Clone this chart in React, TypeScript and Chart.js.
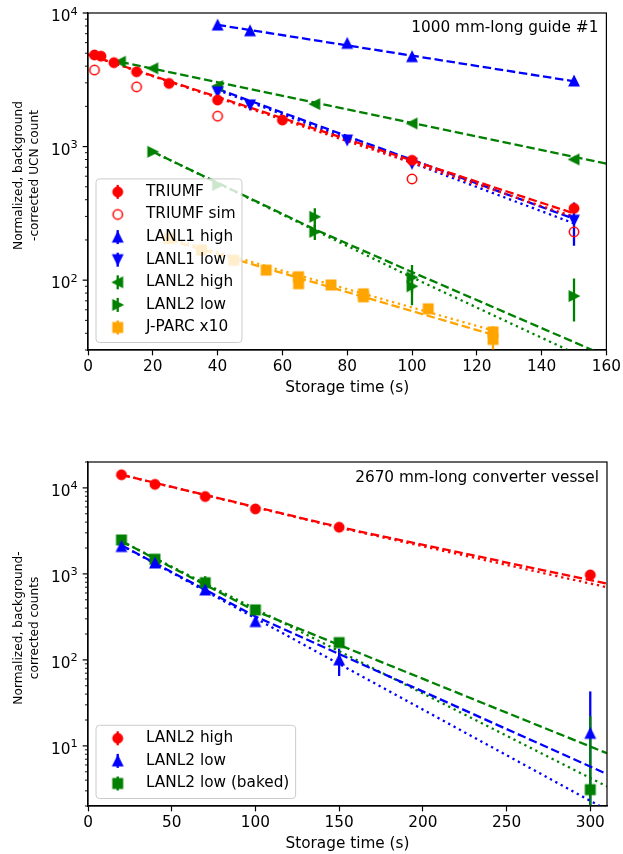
import React, { useEffect, useRef } from 'react';
import { Chart, registerables } from 'chart.js';

Chart.register(...registerables);

// ---------------- Top panel: 1000 mm-long guide #1 ----------------
const topTitle = '1000 mm-long guide #1';
const topXLabel = 'Storage time (s)';
const topYLabel = ['Normalized, background', '-corrected UCN count'];
const topXTicks = [0, 20, 40, 60, 80, 100, 120, 140, 160];
const topYDecades = [2, 3, 4];

const triumfT = [2, 4, 8, 15, 25, 40, 60, 100, 150];
const triumfN = [4850, 4750, 4250, 3630, 2970, 2230, 1580, 790, 345];
const triumfErr = [70, 70, 65, 60, 55, 45, 40, 30, 25];

const triumfSimT = [2, 15, 40, 100, 150];
const triumfSimN = [3740, 2800, 1690, 572, 230];

const lanl1T = [40, 50, 80, 100, 150];
const lanl1HighN = [8130, 7360, 5930, 4710, 3100];
const lanl1HighErr = [90, 85, 75, 70, 60];
const lanl1LowN = [2570, 2050, 1120, 748, 281];
const lanl1LowErr = [45, 40, 30, 25, 100];

const lanl2HighT = [10, 20, 40, 70, 100, 150];
const lanl2HighN = [4320, 3850, 2840, 2080, 1490, 802];
const lanl2HighErr = [60, 55, 45, 40, 35, 30];

const lanl2LowT = [20, 40, 70, 70, 100, 100, 150];
const lanl2LowN = [914, 515, 298, 230, 105, 90, 76];
const lanl2LowErr = [25, 20, 48, 30, 25, 25, 27];

const jparcT = [25, 35, 45, 55, 65, 65, 75, 85, 85, 105, 125, 125];
const jparcN = [205, 168, 141, 119, 106, 94, 92, 79, 75, 61, 41, 36];
const jparcErr = [5, 5, 4, 4, 4, 4, 4, 4, 4, 4, 4, 9];

// fitted curves (top panel)
const fitTriumfT = [0, 150];
const fitTriumfDashN = [4880, 316];
const fitTriumfDotN = [4880, 298];
const fitL1T = [40, 150];
const fitL1HighN = [8150, 3080];
const fitL1LowDashN = [2700, 288];
const fitL1LowDotN = [2650, 266];
const fitL2HighT = [10, 160];
const fitL2HighN = [4300, 745];
const fitL2LowDashT = [20, 70, 100, 160];
const fitL2LowDashN = [914, 240, 115, 27];
const fitL2LowDotT = [20, 100, 160];
const fitL2LowDotN = [914, 105, 22];
const fitJparcT = [25, 125];
const fitJparcDashN = [200, 39];
const fitJparcDotN = [205, 42];

// ---------------- Bottom panel: 2670 mm-long converter vessel ----------------
const botTitle = '2670 mm-long converter vessel';
const botXLabel = 'Storage time (s)';
const botYLabel = ['Normalized, background-', 'corrected counts'];
const botXTicks = [0, 50, 100, 150, 200, 250, 300];
const botYDecades = [1, 2, 3, 4];

const vesselT = [20, 40, 70, 100, 150, 300];
const vHighN = [14200, 11000, 7930, 5700, 3490, 973];
const vHighErr = [200, 160, 120, 90, 60, 40];
const vLowN = [2080, 1340, 650, 279, 100, 14];
const vLowErr = [40, 30, 25, 30, 35, 29];
const vBakedN = [2480, 1480, 790, 381, 159, 3.1];
const vBakedErr = [40, 30, 150, 20, 15, 19];

const fitVHighT = [20, 150, 310];
const fitVHighDashN = [14200, 3500, 770];
const fitVHighDotN = [14200, 3450, 700];
const fitVLowDashT = [20, 100, 310];
const fitVLowDashN = [2150, 320, 4.7];
const fitVLowDotT = [20, 310];
const fitVLowDotN = [2150, 1.8];
const fitVBakedDashT = [20, 100, 310];
const fitVBakedDashN = [2400, 370, 8.2];
const fitVBakedDotT = [20, 310];
const fitVBakedDotN = [2400, 3.37];

// ---------------- styling ----------------
const FAMILY = '"DejaVu Sans", "Liberation Sans", sans-serif';
const FS = 15.3;
const YLFS = 12.2;
const RED = '#ff0000';
const BLUE = '#0000ff';
const GREEN = '#008000';
const ORANGE = '#ffa500';
const LW = 2.3;
const DASH = [8.5, 3.7];
const DOT = [2.3, 3.8];
const MS = 9.4;
const MEW = 1.53;
const TICK_MAJ = 5.35;
const TICK_MIN = 3.06;

function markerImg(kind: string, color: string): HTMLCanvasElement {
  const S = 22;
  const c = document.createElement('canvas');
  c.width = S;
  c.height = S;
  const ctx = c.getContext('2d')!;
  ctx.translate(S / 2, S / 2);
  ctx.lineWidth = MEW;
  ctx.strokeStyle = color;
  ctx.fillStyle = color;
  ctx.lineJoin = 'miter';
  const h = MS / 2;
  ctx.beginPath();
  if (kind === 'o' || kind === 'oh') {
    ctx.arc(0, 0, h, 0, Math.PI * 2);
  } else if (kind === 's') {
    ctx.rect(-h, -h, MS, MS);
  } else {
    const rot: Record<string, number> = { '^': 0, v: Math.PI, '<': -Math.PI / 2, '>': Math.PI / 2 };
    ctx.rotate(rot[kind]);
    ctx.moveTo(0, -h);
    ctx.lineTo(-h, h);
    ctx.lineTo(h, h);
    ctx.closePath();
  }
  if (kind !== 'oh') ctx.fill();
  ctx.stroke();
  return c;
}

function pts(xs: number[], ys: number[]) {
  return xs.map((x, i) => ({ x, y: ys[i] }));
}

function series(label: string, xs: number[], ys: number[], errs: number[] | null, color: string, kind: string) {
  const img = markerImg(kind, color);
  return {
    label,
    data: pts(xs, ys),
    errs,
    errColor: color,
    legendImg: img,
    showLine: false,
    pointStyle: img,
    pointRadius: 5,
    borderColor: color,
    backgroundColor: color,
  };
}

function fit(xs: number[], ys: number[], color: string, dash: number[]) {
  return {
    data: pts(xs, ys),
    showLine: true,
    pointRadius: 0,
    borderColor: color,
    backgroundColor: color,
    borderWidth: LW,
    borderDash: dash,
    fill: false,
    tension: 0,
    isFit: true,
  };
}

type Deco = {
  title: string;
  titleDy: number;
  xLabel: string;
  xLabelDy: number;
  yLabel: string[];
  yDecades: number[];
};

function font(size: number) {
  return `${size}px ${FAMILY}`;
}

function decoPlugin(d: Deco) {
  return {
    id: 'deco',
    beforeDatasetsDraw(chart: any) {
      const { ctx, chartArea: a, scales } = chart;
      const xs = scales.x;
      const ys = scales.y;
      ctx.save();
      ctx.beginPath();
      ctx.rect(a.left, a.top, a.right - a.left, a.bottom - a.top);
      ctx.clip();
      chart.data.datasets.forEach((ds: any) => {
        if (!ds.errs) return;
        ctx.strokeStyle = ds.errColor;
        ctx.lineWidth = LW;
        ds.data.forEach((p: any, i: number) => {
          const e = ds.errs[i];
          if (!e) return;
          const lo = p.y - e;
          const hi = p.y + e;
          const px = xs.getPixelForValue(p.x);
          const y1 = lo > 0 ? ys.getPixelForValue(lo) : a.bottom + 20;
          const y2 = ys.getPixelForValue(hi);
          ctx.beginPath();
          ctx.moveTo(px, y1);
          ctx.lineTo(px, y2);
          ctx.stroke();
        });
      });
      ctx.restore();
    },
    afterDatasetsDraw(chart: any) {
      const { ctx, chartArea: a } = chart;
      const entries = chart.data.datasets.filter((ds: any) => ds.legendImg);
      ctx.save();
      ctx.font = font(FS);
      let maxW = 0;
      entries.forEach((e: any) => {
        maxW = Math.max(maxW, ctx.measureText(e.label).width);
      });
      const spacing = 22.6;
      const h = 13 + spacing * (entries.length - 1) + 15;
      const w = 50 + maxW + 6.3;
      const left = a.left + 8;
      const top = a.bottom - 7.5 - h;
      ctx.beginPath();
      ctx.roundRect(left, top, w, h, 3.5);
      ctx.fillStyle = 'rgba(255,255,255,0.8)';
      ctx.fill();
      ctx.strokeStyle = '#cccccc';
      ctx.lineWidth = 1;
      ctx.stroke();
      entries.forEach((e: any, i: number) => {
        const cy = top + 13 + spacing * i;
        const mx = left + 21.7;
        if (e.errs) {
          ctx.strokeStyle = e.errColor;
          ctx.lineWidth = LW;
          ctx.beginPath();
          ctx.moveTo(mx, cy - 7);
          ctx.lineTo(mx, cy + 7);
          ctx.stroke();
        }
        const img = e.legendImg;
        ctx.drawImage(img, mx - img.width / 2, cy - img.height / 2);
        ctx.fillStyle = '#000';
        ctx.textAlign = 'left';
        ctx.textBaseline = 'middle';
        ctx.fillText(e.label, left + 50, cy);
      });
      ctx.restore();
    },
    afterDraw(chart: any) {
      const { ctx, chartArea: a, scales } = chart;
      const ys = scales.y;
      ctx.save();
      // frame
      ctx.strokeStyle = '#000';
      ctx.lineWidth = 1.2;
      ctx.strokeRect(a.left, a.top, a.right - a.left, a.bottom - a.top);
      // y ticks (major + minor) and labels
      const lo = Math.floor(Math.log10(ys.min));
      const hi = Math.ceil(Math.log10(ys.max));
      ctx.lineWidth = 0.92;
      for (let dcd = lo; dcd <= hi; dcd++) {
        for (let k = 2; k <= 9; k++) {
          const v = k * Math.pow(10, dcd);
          if (v < ys.min || v > ys.max) continue;
          const py = ys.getPixelForValue(v);
          ctx.beginPath();
          ctx.moveTo(a.left - TICK_MIN, py);
          ctx.lineTo(a.left, py);
          ctx.stroke();
        }
      }
      ctx.lineWidth = 1.2;
      d.yDecades.forEach((dcd) => {
        const py = ys.getPixelForValue(Math.pow(10, dcd));
        ctx.beginPath();
        ctx.moveTo(a.left - TICK_MAJ, py);
        ctx.lineTo(a.left, py);
        ctx.stroke();
        const expStr = String(dcd);
        ctx.font = font(FS * 0.74);
        const we = ctx.measureText(expStr).width;
        ctx.font = font(FS);
        const wb = ctx.measureText('10').width;
        const right = a.left - TICK_MAJ - 5.0;
        const base = py + 8.1;
        ctx.fillStyle = '#000';
        ctx.textAlign = 'left';
        ctx.textBaseline = 'alphabetic';
        ctx.fillText('10', right - we - wb, base);
        ctx.font = font(FS * 0.74);
        ctx.fillText(expStr, right - we, base - 6.6);
      });
      // panel annotation
      ctx.font = font(FS);
      ctx.textAlign = 'right';
      ctx.textBaseline = 'alphabetic';
      ctx.fillText(d.title, a.right - 8, a.top + d.titleDy);
      // x label
      ctx.textAlign = 'center';
      ctx.fillText(d.xLabel, (a.left + a.right) / 2, a.bottom + d.xLabelDy);
      // y label (two lines, rotated)
      ctx.font = font(YLFS);
      ctx.textBaseline = 'middle';
      const cyl = (a.top + a.bottom) / 2 - 6;
      const xsPos = [18.5, 34.5];
      d.yLabel.forEach((line, i) => {
        ctx.save();
        ctx.translate(xsPos[i], cyl);
        ctx.rotate(-Math.PI / 2);
        ctx.textAlign = 'center';
        ctx.fillText(line, 0, 0);
        ctx.restore();
      });
      ctx.restore();
    },
  };
}

function makeChart(
  canvas: HTMLCanvasElement,
  datasets: any[],
  p: { xMin: number; xMax: number; xTicks: number[]; yMin: number; yMax: number; padTop: number; xAxisH: number },
  deco: Deco
) {
  return new Chart(canvas, {
    type: 'scatter',
    data: { datasets },
    options: {
      responsive: false,
      maintainAspectRatio: false,
      animation: false,
      events: [],
      layout: { padding: { top: p.padTop, right: 16, left: 0, bottom: 0 } },
      plugins: { legend: { display: false }, tooltip: { enabled: false } },
      scales: {
        x: {
          type: 'linear',
          min: p.xMin,
          max: p.xMax,
          afterBuildTicks: (s: any) => {
            s.ticks = p.xTicks.map((v) => ({ value: v }));
          },
          afterFit: (s: any) => {
            s.height = p.xAxisH;
          },
          grid: {
            display: true,
            drawOnChartArea: false,
            drawTicks: true,
            tickLength: TICK_MAJ,
            tickWidth: 1.2,
            tickColor: '#000',
          },
          border: { display: true, color: '#000', width: 1.2 },
          ticks: {
            color: '#000',
            font: { family: FAMILY, size: FS },
            padding: 2,
            maxRotation: 0,
            autoSkip: false,
            callback: (v: any) => String(v),
          },
        },
        y: {
          type: 'logarithmic',
          min: p.yMin,
          max: p.yMax,
          afterFit: (s: any) => {
            s.width = 88;
          },
          grid: { display: false },
          border: { display: true, color: '#000', width: 1.2 },
          ticks: { display: false },
        },
      },
    } as any,
    plugins: [decoPlugin(deco) as any],
  });
}

function buildTop(canvas: HTMLCanvasElement) {
  const datasets = [
    series('TRIUMF', triumfT, triumfN, triumfErr, RED, 'o'),
    series('TRIUMF sim', triumfSimT, triumfSimN, null, RED, 'oh'),
    series('LANL1 high', lanl1T, lanl1HighN, lanl1HighErr, BLUE, '^'),
    series('LANL1 low', lanl1T, lanl1LowN, lanl1LowErr, BLUE, 'v'),
    series('LANL2 high', lanl2HighT, lanl2HighN, lanl2HighErr, GREEN, '<'),
    series('LANL2 low', lanl2LowT, lanl2LowN, lanl2LowErr, GREEN, '>'),
    series('J-PARC x10', jparcT, jparcN, jparcErr, ORANGE, 's'),
    fit(fitTriumfT, fitTriumfDashN, RED, DASH),
    fit(fitTriumfT, fitTriumfDotN, RED, DOT),
    fit(fitL1T, fitL1HighN, BLUE, DASH),
    fit(fitL1T, fitL1LowDashN, BLUE, DASH),
    fit(fitL1T, fitL1LowDotN, BLUE, DOT),
    fit(fitL2HighT, fitL2HighN, GREEN, DASH),
    fit(fitL2LowDashT, fitL2LowDashN, GREEN, DASH),
    fit(fitL2LowDotT, fitL2LowDotN, GREEN, DOT),
    fit(fitJparcT, fitJparcDashN, ORANGE, DASH),
    fit(fitJparcT, fitJparcDotN, ORANGE, DOT),
  ];
  return makeChart(
    canvas,
    datasets,
    { xMin: 0, xMax: 160, xTicks: topXTicks, yMin: 30, yMax: 10000, padTop: 13, xAxisH: 77 },
    { title: topTitle, titleDy: 18.5, xLabel: topXLabel, xLabelDy: 42, yLabel: topYLabel, yDecades: topYDecades }
  );
}

function buildBottom(canvas: HTMLCanvasElement) {
  const datasets = [
    series('LANL2 high', vesselT, vHighN, vHighErr, RED, 'o'),
    series('LANL2 low', vesselT, vLowN, vLowErr, BLUE, '^'),
    series('LANL2 low (baked)', vesselT, vBakedN, vBakedErr, GREEN, 's'),
    fit(fitVHighT, fitVHighDashN, RED, DASH),
    fit(fitVHighT, fitVHighDotN, RED, DOT),
    fit(fitVLowDashT, fitVLowDashN, BLUE, DASH),
    fit(fitVLowDotT, fitVLowDotN, BLUE, DOT),
    fit(fitVBakedDashT, fitVBakedDashN, GREEN, DASH),
    fit(fitVBakedDotT, fitVBakedDotN, GREEN, DOT),
  ];
  return makeChart(
    canvas,
    datasets,
    { xMin: 0, xMax: 310, xTicks: botXTicks, yMin: 2, yMax: 20000, padTop: 35, xAxisH: 48 },
    { title: botTitle, titleDy: 19.7, xLabel: botXLabel, xLabelDy: 42, yLabel: botYLabel, yDecades: botYDecades }
  );
}

export default function App() {
  const topRef = useRef<HTMLCanvasElement>(null);
  const botRef = useRef<HTMLCanvasElement>(null);
  useEffect(() => {
    const c1 = buildTop(topRef.current!);
    const c2 = buildBottom(botRef.current!);
    return () => {
      c1.destroy();
      c2.destroy();
    };
  }, []);
  return (
    <div style={{ position: 'absolute', left: 0, top: 0, width: 623, height: 854, background: '#ffffff' }}>
      <canvas
        ref={topRef}
        width={623}
        height={427}
        style={{ position: 'absolute', left: 0, top: 0, width: 623, height: 427 }}
      />
      <canvas
        ref={botRef}
        width={623}
        height={427}
        style={{ position: 'absolute', left: 0, top: 427, width: 623, height: 427 }}
      />
    </div>
  );
}
